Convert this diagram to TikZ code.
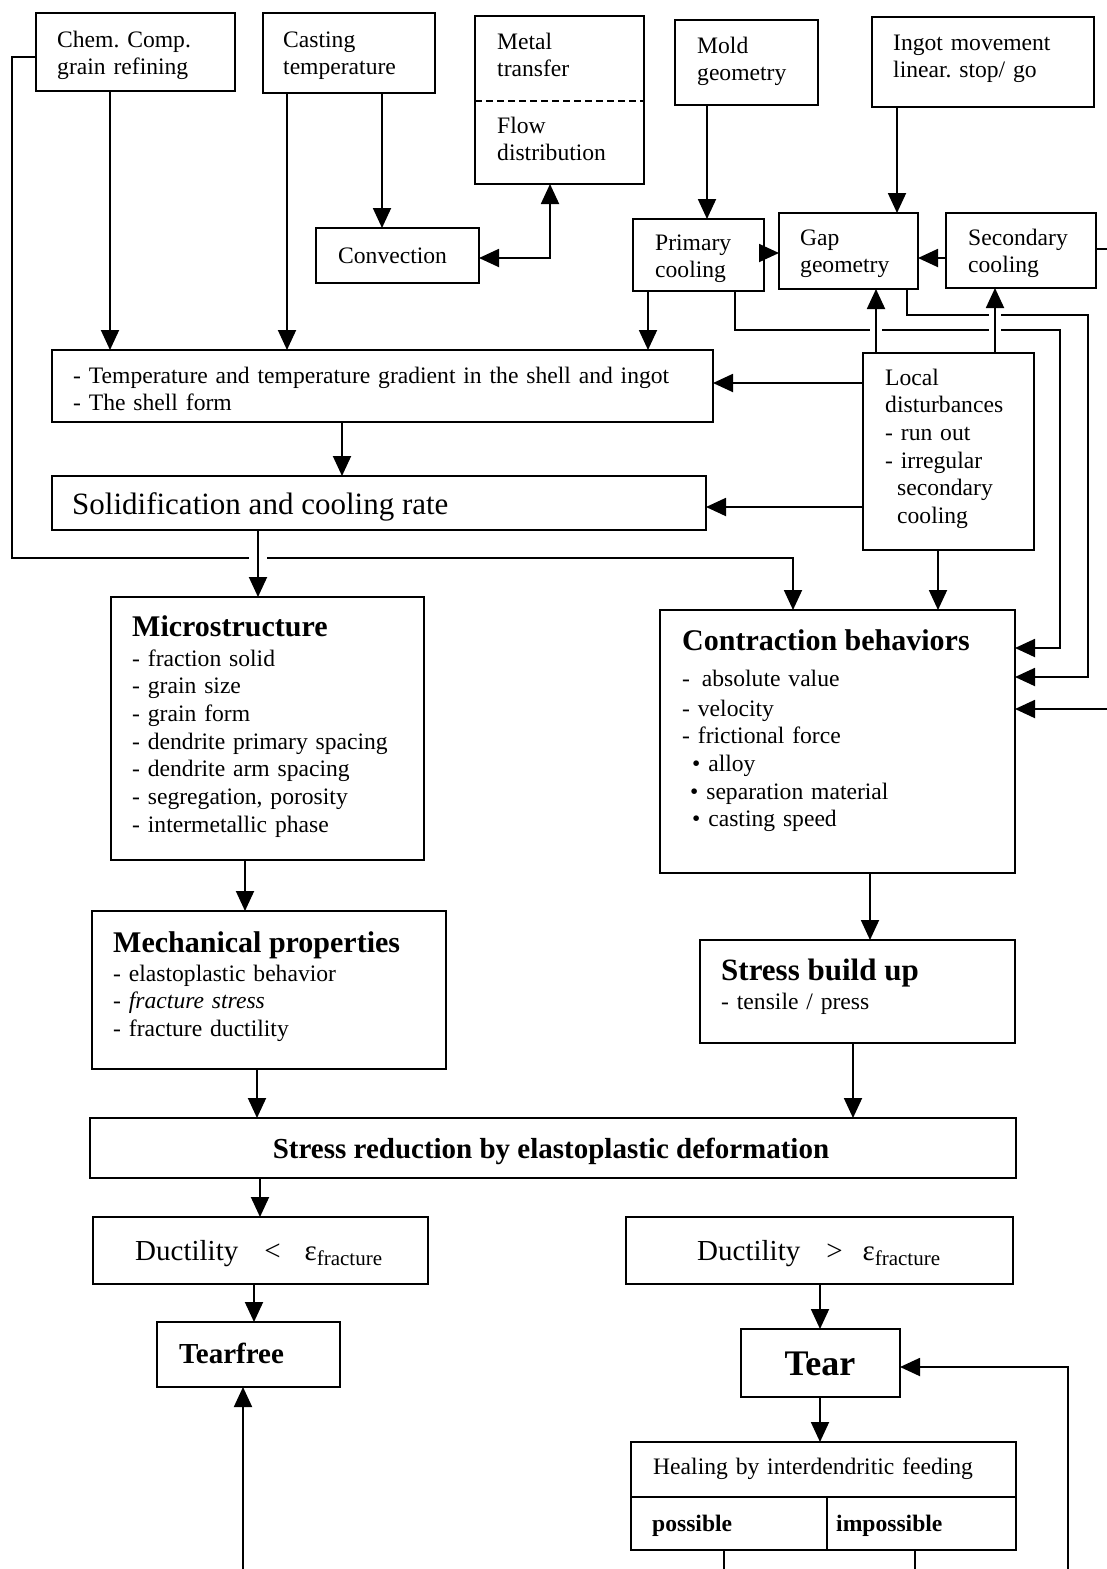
\documentclass[tikz,border=0pt]{standalone}
\usepackage{fontspec}
\setmainfont{Liberation Serif}
\usetikzlibrary{arrows.meta,calc}
\frenchspacing
\newcommand\nrm{\fontsize{23.6}{27.7}\selectfont}
\newcommand\ttlf{\fontsize{30}{34}\selectfont\bfseries}
\begin{document}
\frenchspacing
\begin{tikzpicture}[x=1pt,y=-1pt,
  box/.style={draw, line width=2.2pt, anchor=north west, inner sep=0pt, outer sep=0pt},
  conn/.style={line width=1.9pt, -{Triangle[length=20pt,width=18pt]}},
  conn2/.style={line width=1.9pt, {Triangle[length=20pt,width=18pt]}-{Triangle[length=20pt,width=18pt]}},
  plain/.style={line width=1.9pt},
  lbl/.style={anchor=base west, inner sep=0pt, text width=400pt, align=left, font=\nrm},
  ttl/.style={anchor=base west, inner sep=0pt, font=\ttlf},
  gapw/.style={fill=white},
]
\useasboundingbox (0,0) rectangle (1107,1569);
\fill[white] (0,0) rectangle (1107,1569);

% ---------- boxes ----------
\node[box, minimum width=199, minimum height=78] (chem) at (36,13) {};
\node[box, minimum width=172, minimum height=80] (cast) at (263,13) {};
\node[box, minimum width=169, minimum height=168] (metal) at (475,16) {};
\node[box, minimum width=143, minimum height=85] (mold) at (675,20) {};
\node[box, minimum width=222, minimum height=90] (ingot) at (872,17) {};
\node[box, minimum width=163, minimum height=55] (conv) at (316,228) {};
\node[box, minimum width=131, minimum height=72] (prim) at (633,219) {};
\node[box, minimum width=139, minimum height=76] (gap) at (779,213) {};
\node[box, minimum width=150, minimum height=75] (sec) at (946,213) {};
\node[box, minimum width=661, minimum height=72] (temp) at (52,350) {};
\node[box, minimum width=171, minimum height=197] (local) at (863,353) {};
\node[box, minimum width=654, minimum height=54] (solid) at (52,476) {};
\node[box, minimum width=313, minimum height=263] (micro) at (111,597) {};
\node[box, minimum width=355, minimum height=263] (contr) at (660,610) {};
\node[box, minimum width=354, minimum height=158] (mech) at (92,911) {};
\node[box, minimum width=315, minimum height=103] (sbu) at (700,940) {};
\node[box, minimum width=926, minimum height=60] (sred) at (90,1118) {};
\node[box, minimum width=335, minimum height=67] (dl) at (93,1217) {};
\node[box, minimum width=387, minimum height=67] (dg) at (626,1217) {};
\node[box, minimum width=183, minimum height=65] (tfree) at (157,1322) {};
\node[box, minimum width=159, minimum height=68] (tear) at (741,1329) {};
\node[box, minimum width=385, minimum height=108] (heal) at (631,1442) {};

% dividers
\draw[line width=1.6pt, dash pattern=on 7pt off 4pt] ([yshift=-85pt]metal.north west) -- ([yshift=-85pt]metal.north east);
\draw[line width=2.2pt] ([yshift=-55pt]heal.north west) -- ([yshift=-55pt]heal.north east);
\draw[line width=2.2pt] ([xshift=196pt]heal.south west) -- ([xshift=196pt,yshift=-55pt]heal.north west);

% ---------- texts ----------
\node[lbl] (tchem) at (57,47) {Chem. Comp.\\grain refining};
\node[lbl] (tcast) at (283,47) {Casting\\temperature};
\node[lbl] (tmetal) at (497,49) {Metal\\transfer};
\node[lbl] (tflow) at (497,133) {Flow\\distribution};
\node[lbl] (tmold) at (697,53) {Mold\\geometry};
\node[lbl] (tingot) at (893,50) {Ingot movement\\linear. stop/ go};
\node[lbl] (tconv) at (338,263) {Convection};
\node[lbl] (tprim) at (655,250) {Primary\\cooling};
\node[lbl] (tgap) at (800,245) {Gap\\geometry};
\node[lbl] (tsec) at (968,245) {Secondary\\cooling};
\node[lbl, text width=640pt] (ttemp) at (73,383) {- Temperature and temperature gradient in the shell and ingot\\- The shell form};
\node[lbl] (tlocal) at (885,385) {Local\\disturbances\\- run out\\- irregular\\\hspace*{12pt}secondary\\\hspace*{12pt}cooling};
\node[anchor=base west, inner sep=0pt, font=\fontsize{31}{34}\selectfont] (tsolid) at (72,514) {Solidification and cooling rate};
\node[ttl] (tmicro) at (132,636) {Microstructure};
\node[lbl] (imicro) at (132,666) {- fraction solid\\- grain size\\- grain form\\- dendrite primary spacing\\- dendrite arm spacing\\- segregation, porosity\\- intermetallic phase};
\node[ttl] (tcontr) at (682,650) {Contraction behaviors};
\node[lbl] (icontr1) at (682,686) {-\hspace*{4pt} absolute value};
\node[lbl] (icontr2) at (682,716) {- velocity\\- frictional force\\\hspace*{10pt}\textbullet\ alloy\\\hspace*{8pt}\textbullet\ separation material\\\hspace*{10pt}\textbullet\ casting speed};
\node[ttl] (tmech) at (113,952) {Mechanical properties};
\node[lbl] (imech) at (113,981) {- elastoplastic behavior\\- \textit{fracture stress}\\- fracture ductility};
\node[anchor=base west, inner sep=0pt, font=\fontsize{31}{34}\selectfont\bfseries] (tsbu) at (721,980) {Stress build up};
\node[lbl] (isbu) at (721,1009) {- tensile / press};
\node[anchor=base, inner sep=0pt, font=\fontsize{29}{32}\selectfont\bfseries] (tsred) at (551,1158) {Stress reduction by elastoplastic deformation};
\node[anchor=base west, inner sep=0pt, font=\fontsize{29}{32}\selectfont] (tdl) at (135,1260) {Ductility\hspace*{26pt}<\hspace*{24pt}ε\raisebox{-5pt}{\fontsize{21}{21}\selectfont fracture}};
\node[anchor=base west, inner sep=0pt, font=\fontsize{29}{32}\selectfont] (tdg) at (697,1260) {Ductility\hspace*{26pt}>\hspace*{20pt}ε\raisebox{-5pt}{\fontsize{21}{21}\selectfont fracture}};
\node[anchor=base west, inner sep=0pt, font=\fontsize{29}{32}\selectfont\bfseries] (ttfree) at (179,1363) {Tearfree};
\node[anchor=base, inner sep=0pt, font=\fontsize{36}{40}\selectfont\bfseries] (ttear) at (820,1375) {Tear};
\node[lbl] (theal) at (653,1474) {Healing by interdendritic feeding};
\node[lbl, font=\nrm\bfseries] (tposs) at (652,1531) {possible};
\node[lbl, font=\nrm\bfseries] (timposs) at (836,1531) {impossible};

% ---------- connectors ----------
\draw[conn] ([xshift=74pt]chem.south west) coordinate (a1) -- (a1 |- temp.north);
\draw[conn] ([yshift=-44pt]chem.north west) -- ++(-24,0) -- ++(0,501) -- ++(781,0) coordinate (a3) -- (a3 |- contr.north);
\draw[conn] ([xshift=24pt]cast.south west) coordinate (b1) -- (b1 |- temp.north);
\draw[conn] ([xshift=119pt]cast.south west) coordinate (b2) -- (b2 |- conv.north);
\draw[conn2] ([yshift=-30pt]conv.north east) -- ++(71,0) coordinate (b3) -- (b3 |- metal.south);
\draw[conn] ([xshift=32pt]mold.south west) coordinate (c1) -- (c1 |- prim.north);
\draw[conn] ([xshift=25pt]ingot.south west) coordinate (c2) -- (c2 |- gap.north);
\draw[conn] ([yshift=-34pt]prim.north east) coordinate (c3) -- (c3 -| gap.west);
\draw[conn] ([yshift=-45pt]sec.north west) coordinate (c4) -- (c4 -| gap.east);
\draw[conn] ([xshift=15pt]prim.south west) coordinate (d1) -- (d1 |- temp.north);
\draw[conn] ([xshift=102pt]prim.south west) -- ++(0,39) coordinate (g1) -- ++(325,0) -- ++(0,318) coordinate (e1) -- (e1 -| contr.east);
\draw[conn] ([xshift=128pt]gap.south west) -- ++(0,26) coordinate (g2) -- ++(181,0) -- ++(0,362) coordinate (e2) -- (e2 -| contr.east);
\draw[conn] ([yshift=-36pt]sec.north east) -- ++(40,0) -- ++(0,460) coordinate (e3) -- (e3 -| contr.east);
\draw[conn] ([yshift=-30pt]local.north west) coordinate (h1) -- (h1 -| temp.east);
\draw[conn] ([yshift=-154pt]local.north west) coordinate (h2) -- (h2 -| solid.east);
\draw[conn] ([xshift=75pt]local.south west) coordinate (h3) -- (h3 |- contr.north);
\draw[conn] ([xshift=290pt]temp.south west) coordinate (i1) -- (i1 |- solid.north);

% bridges (gaps where lines cross)
\coordinate (f1) at ([xshift=13pt]local.north west);
\coordinate (f2) at ([xshift=132pt]local.north west);
\coordinate (s1) at ([xshift=206pt]solid.south west);
\fill[gapw] (f1 |- g1) ++(-6,-3) rectangle ++(12,6);
\fill[gapw] (f2 |- g1) ++(-6,-3) rectangle ++(12,6);
\fill[gapw] (f2 |- g2) ++(-6,-3) rectangle ++(12,6);
\fill[gapw] (s1 |- a3) ++(-9,-3) rectangle ++(18,6);

\draw[conn] (f1) -- (f1 |- gap.south);
\draw[conn] (f2) -- (f2 |- sec.south);
\draw[conn] (s1) -- (s1 |- micro.north);

\draw[conn] ([xshift=134pt]micro.south west) coordinate (j1) -- (j1 |- mech.north);
\draw[conn] ([xshift=210pt]contr.south west) coordinate (j2) -- (j2 |- sbu.north);
\draw[conn] ([xshift=165pt]mech.south west) coordinate (k1) -- (k1 |- sred.north);
\draw[conn] ([xshift=153pt]sbu.south west) coordinate (k2) -- (k2 |- sred.north);
\draw[conn] ([xshift=170pt]sred.south west) coordinate (l1) -- (l1 |- dl.north);
\draw[conn] ([xshift=161pt]dl.south west) coordinate (l2) -- (l2 |- tfree.north);
\draw[conn] ([xshift=194pt]dg.south west) coordinate (l3) -- (l3 |- tear.north);
\draw[conn] ([xshift=-0.5pt]tear.south) coordinate (l4) -- (l4 |- heal.north);
\draw[plain] ([xshift=93pt]heal.south west) -- ++(0,40);
\draw[plain] ([xshift=284pt]heal.south west) -- ++(0,40);
\coordinate (m1) at (1068,1600);
\draw[conn] (m1) |- ([yshift=-4pt]tear.east);
\coordinate (m2) at (243,1600);
\draw[conn] (m2) -- (m2 |- tfree.south);
\end{tikzpicture}
\end{document}
